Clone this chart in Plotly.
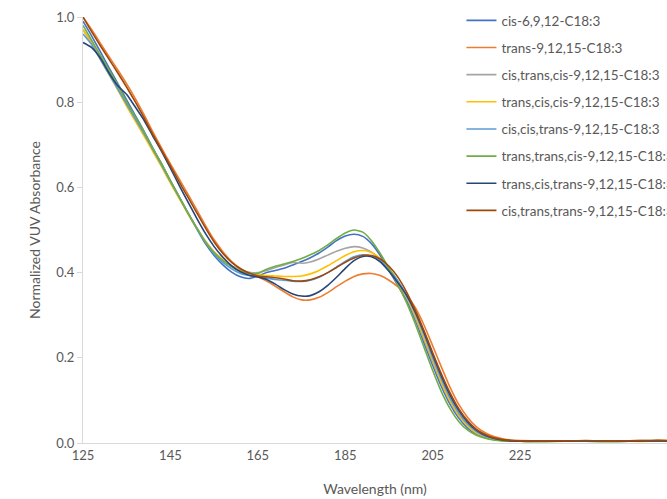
import plotly.graph_objects as go

wavelength = [125, 127, 129, 131, 133, 135, 137, 139, 141, 143, 145, 147, 149, 151, 153, 155, 157, 159, 161, 163,
              165, 167, 169, 171, 173, 175, 177, 179, 181, 183, 185, 187, 189, 191, 193, 195, 197, 199, 201, 203,
              205, 207, 209, 211, 213, 215, 217, 219, 221, 223, 225,
              230, 235, 240, 245, 250, 255, 259]

cis_6_9_12 = [0.99, 0.955, 0.918, 0.88, 0.843, 0.805, 0.768, 0.731, 0.692, 0.655, 0.616, 0.578, 0.54, 0.503, 0.468, 0.44, 0.418, 0.401, 0.39, 0.386,
              0.392, 0.40, 0.405, 0.41, 0.418, 0.426, 0.435, 0.446, 0.46, 0.475, 0.486, 0.49, 0.485, 0.468, 0.44, 0.405, 0.37, 0.335, 0.288, 0.235,
              0.182, 0.132, 0.09, 0.058, 0.035, 0.021, 0.013, 0.008, 0.006, 0.005, 0.004,
              0.004, 0.004, 0.005, 0.004, 0.004, 0.005, 0.005]
trans_9_12_15 = [1.0, 0.97, 0.938, 0.906, 0.875, 0.843, 0.808, 0.77, 0.73, 0.692, 0.655, 0.62, 0.584, 0.548, 0.511, 0.477, 0.449, 0.426, 0.41, 0.399,
                 0.39, 0.38, 0.368, 0.355, 0.343, 0.336, 0.336, 0.342, 0.353, 0.367, 0.38, 0.391, 0.397, 0.398, 0.393, 0.382, 0.367, 0.347, 0.318, 0.277,
                 0.228, 0.178, 0.13, 0.09, 0.06, 0.038, 0.024, 0.015, 0.01, 0.007, 0.006,
                 0.005, 0.005, 0.004, 0.005, 0.005, 0.006, 0.006]
cis_trans_cis = [0.97, 0.94, 0.905, 0.87, 0.835, 0.797, 0.762, 0.727, 0.69, 0.653, 0.615, 0.578, 0.541, 0.506, 0.474, 0.449, 0.43, 0.416, 0.406, 0.401,
                 0.40, 0.405, 0.412, 0.418, 0.424, 0.422, 0.425, 0.432, 0.441, 0.45, 0.457, 0.461, 0.458, 0.448, 0.43, 0.405, 0.377, 0.343, 0.295, 0.243,
                 0.19, 0.14, 0.097, 0.063, 0.039, 0.023, 0.014, 0.009, 0.006, 0.005, 0.004,
                 0.004, 0.005, 0.004, 0.004, 0.005, 0.004, 0.005]
trans_cis_cis = [0.97, 0.937, 0.9, 0.864, 0.828, 0.79, 0.755, 0.72, 0.684, 0.648, 0.61, 0.574, 0.538, 0.504, 0.473, 0.448, 0.43, 0.415, 0.405, 0.398,
                 0.395, 0.393, 0.392, 0.391, 0.391, 0.392, 0.397, 0.405, 0.416, 0.428, 0.44, 0.449, 0.452, 0.447, 0.433, 0.41, 0.38, 0.345, 0.30, 0.248,
                 0.195, 0.143, 0.099, 0.065, 0.04, 0.024, 0.015, 0.009, 0.006, 0.005, 0.004,
                 0.004, 0.004, 0.004, 0.005, 0.004, 0.004, 0.005]
cis_cis_trans = [0.96, 0.935, 0.90, 0.865, 0.83, 0.795, 0.76, 0.725, 0.689, 0.652, 0.614, 0.577, 0.54, 0.504, 0.471, 0.444, 0.424, 0.409, 0.398, 0.393,
                 0.39, 0.387, 0.384, 0.382, 0.38, 0.379, 0.382, 0.389, 0.4, 0.413, 0.426, 0.437, 0.442, 0.439, 0.428, 0.408, 0.381, 0.347, 0.305, 0.255,
                 0.20, 0.15, 0.105, 0.07, 0.044, 0.027, 0.016, 0.01, 0.007, 0.005, 0.004,
                 0.005, 0.004, 0.005, 0.004, 0.005, 0.005, 0.004]
trans_trans_cis = [0.98, 0.945, 0.91, 0.875, 0.84, 0.80, 0.765, 0.73, 0.69, 0.655, 0.615, 0.578, 0.54, 0.505, 0.472, 0.447, 0.428, 0.414, 0.404, 0.398,
                   0.398, 0.408, 0.415, 0.42, 0.426, 0.433, 0.442, 0.452, 0.465, 0.48, 0.493, 0.50, 0.495, 0.475, 0.445, 0.41, 0.372, 0.33, 0.28, 0.225,
                   0.17, 0.12, 0.08, 0.05, 0.03, 0.018, 0.011, 0.007, 0.005, 0.004, 0.004,
                   0.003, 0.004, 0.004, 0.003, 0.004, 0.004, 0.004]
trans_cis_trans = [0.94, 0.928, 0.903, 0.868, 0.838, 0.818, 0.788, 0.757, 0.72, 0.684, 0.645, 0.605, 0.566, 0.528, 0.492, 0.461, 0.436, 0.416, 0.402, 0.394,
                   0.39, 0.384, 0.373, 0.36, 0.35, 0.345, 0.346, 0.355, 0.37, 0.389, 0.41, 0.428, 0.438, 0.437, 0.425, 0.403, 0.377, 0.347, 0.308, 0.26,
                   0.207, 0.157, 0.112, 0.076, 0.049, 0.03, 0.018, 0.011, 0.007, 0.005, 0.004,
                   0.005, 0.004, 0.005, 0.005, 0.004, 0.005, 0.005]
cis_trans_trans = [1.0, 0.965, 0.932, 0.90, 0.868, 0.835, 0.80, 0.763, 0.724, 0.687, 0.65, 0.613, 0.577, 0.541, 0.505, 0.472, 0.445, 0.424, 0.409, 0.399,
                   0.392, 0.39, 0.388, 0.385, 0.381, 0.38, 0.383, 0.39, 0.40, 0.412, 0.424, 0.434, 0.44, 0.44, 0.432, 0.415, 0.39, 0.355, 0.312, 0.264,
                   0.212, 0.162, 0.117, 0.08, 0.052, 0.032, 0.02, 0.012, 0.008, 0.006, 0.005,
                   0.005, 0.005, 0.006, 0.005, 0.005, 0.006, 0.006]

series_names = ["cis-6,9,12-C18:3", "trans-9,12,15-C18:3", "cis,trans,cis-9,12,15-C18:3",
                "trans,cis,cis-9,12,15-C18:3", "cis,cis,trans-9,12,15-C18:3",
                "trans,trans,cis-9,12,15-C18:3", "trans,cis,trans-9,12,15-C18:3",
                "cis,trans,trans-9,12,15-C18:3"]
series_values = [cis_6_9_12, trans_9_12_15, cis_trans_cis, trans_cis_cis, cis_cis_trans,
                 trans_trans_cis, trans_cis_trans, cis_trans_trans]
colors = ["#4472C4", "#ED7D31", "#A5A5A5", "#FFC000", "#5B9BD5", "#70AD47", "#264478", "#9E480E"]

x_ticks = [125, 145, 165, 185, 205, 225]
y_ticks = [0.0, 0.2, 0.4, 0.6, 0.8, 1.0]

FONT = "Lato, 'Open Sans', sans-serif"
TXT = "#595959"

fig = go.Figure()
for i, (name, vals, col) in enumerate(zip(series_names, series_values, colors)):
    fig.add_trace(go.Scatter(
        x=wavelength, y=vals, mode="lines", name=name,
        line=dict(color=col, width=1.6, shape="spline", smoothing=0.6),
        legendgroup=f"g{i}",
    ))

fig.update_layout(
    width=667, height=499,
    margin=dict(l=83, r=0, t=17, b=56, autoexpand=False),
    paper_bgcolor="white", plot_bgcolor="white",
    font=dict(family=FONT, color=TXT, size=13),
    showlegend=True,
    legend=dict(
        x=0.648, y=1.028, xanchor="left", yanchor="top",
        bgcolor="rgba(0,0,0,0)", borderwidth=0,
        font=dict(family=FONT, size=13.5, color=TXT),
        tracegroupgap=6.6, traceorder="grouped", itemwidth=30,
    ),
    xaxis=dict(
        range=[125, 258.6], tickmode="array", tickvals=x_ticks,
        ticktext=[str(v) for v in x_ticks],
        showgrid=False, zeroline=False,
        showline=True, linecolor="#d9d9d9", linewidth=1,
        ticks="", tickfont=dict(size=13, color=TXT),
        title=dict(text="Wavelength (nm)", font=dict(size=14, color=TXT), standoff=22),
    ),
    yaxis=dict(
        range=[0, 1.0], tickmode="array", tickvals=y_ticks,
        tickformat=".1f",
        showgrid=False, zeroline=False,
        showline=True, linecolor="#d9d9d9", linewidth=1,
        ticks="outside", ticklen=5, tickcolor="#d9d9d9",
        tickfont=dict(size=13, color=TXT),
        title=dict(text="Normalized VUV Absorbance", font=dict(size=14, color=TXT), standoff=12),
    ),
)

fig.write_html("out.html")
